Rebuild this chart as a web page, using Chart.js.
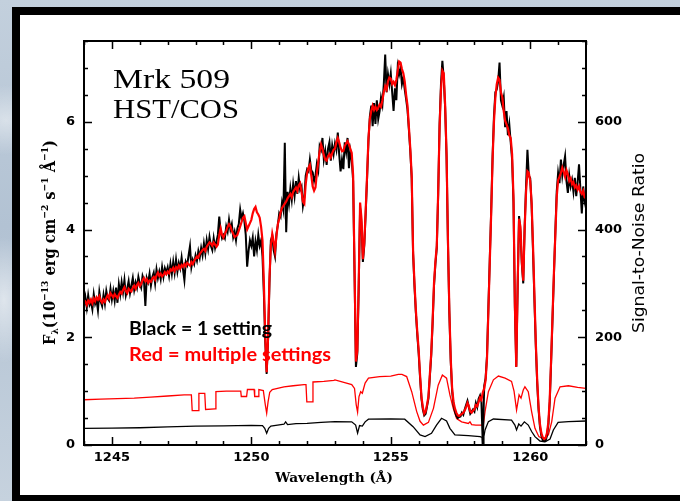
<!DOCTYPE html>
<html>
<head>
<meta charset="utf-8">
<script src="https://cdn.jsdelivr.net/npm/chart.js@4.4.1/dist/chart.umd.min.js"></script>
<style>
html,body{margin:0;padding:0;width:680px;height:501px;overflow:hidden;}
body{background:
  radial-gradient(ellipse 40px 90px at 4px 300px, rgba(255,255,255,0.55), rgba(255,255,255,0) 70%),
  radial-gradient(ellipse 60px 50px at 6px 120px, rgba(255,255,255,0.45), rgba(255,255,255,0) 70%),
  linear-gradient(180deg,#c3d0dd 0%,#b2c2d3 45%,#c6d2de 100%);}
#panel{position:absolute;left:12px;top:7px;width:680px;height:480px;background:#fff;
  border-left:8px solid #000;border-top:8px solid #000;border-bottom:8px solid #000;}
#c{position:absolute;left:0;top:0;}
</style>
</head>
<body>
<div id="panel"></div>
<canvas id="c" width="680" height="501"></canvas>
<script>
// ---- spectral sampling grid (dispersion solution of the plotted spectra) ----
const waveStart = 1244.0;
const waveStep = 0.05;

// ---- flux, multiple settings (red), 1e-13 erg cm-2 s-1 A-1 ----
const fluxMulti = [
2.62,2.66,2.60,2.68,2.64,2.70,2.63,2.72,2.67,2.74,2.70,2.76,2.68,2.64,2.70,2.66,2.73,2.78,2.72,2.82,
2.78,2.74,2.80,2.76,2.73,2.79,2.84,2.81,2.88,2.93,2.86,2.82,2.90,2.87,2.85,2.92,2.96,2.90,2.97,3.01,
2.95,2.99,3.06,3.10,3.04,3.08,3.01,3.05,3.03,3.09,3.12,3.07,3.15,3.20,3.14,3.18,3.13,3.16,3.21,3.17,
3.22,3.19,3.26,3.24,3.29,3.23,3.30,3.27,3.33,3.28,3.34,3.31,3.36,3.32,3.38,3.35,3.33,3.40,3.36,3.42,
3.46,3.50,3.48,3.55,3.58,3.62,3.64,3.60,3.68,3.72,3.76,3.74,3.70,3.76,3.72,3.68,3.72,3.90,4.02,3.90,
3.85,3.92,3.98,4.05,4.10,4.06,3.98,3.92,3.86,3.88,3.90,3.98,4.06,4.14,4.22,4.25,4.12,4.00,4.06,4.12,
4.18,4.30,4.38,4.42,4.32,4.28,4.22,4.05,3.80,3.00,2.00,1.35,2.00,3.10,3.70,3.92,3.78,3.60,3.88,4.10,
4.20,4.32,4.40,4.44,4.48,4.52,4.58,4.62,4.66,4.60,4.70,4.74,4.78,4.72,4.82,4.86,4.70,4.52,4.48,4.85,
5.05,5.15,5.20,5.00,4.80,4.72,4.78,5.05,5.25,5.45,5.58,5.50,5.38,5.30,5.28,5.36,5.40,5.34,5.42,5.48,
5.50,5.62,5.70,5.62,5.52,5.45,5.46,5.55,5.60,5.64,5.58,5.50,5.42,5.00,3.30,1.55,1.75,3.00,4.50,4.20,
3.45,3.75,4.35,5.00,5.70,6.05,6.20,6.30,6.22,6.28,6.22,6.26,6.32,6.28,6.40,6.55,6.66,6.60,6.75,6.82,
6.80,6.70,6.74,6.68,6.78,6.95,7.12,7.10,6.98,6.90,6.75,6.50,6.30,5.90,5.50,5.00,3.60,3.00,2.50,2.10,
1.76,1.30,0.90,0.70,0.58,0.62,0.75,0.90,1.30,1.70,2.30,3.00,3.40,3.70,4.70,5.90,6.60,6.95,6.90,6.30,
5.40,3.80,2.50,1.60,1.05,0.80,0.68,0.60,0.55,0.54,0.56,0.58,0.60,0.64,0.70,0.78,0.72,0.62,0.60,0.64,
0.66,0.74,0.72,0.80,0.88,0.84,0.98,1.05,1.20,1.60,2.50,3.40,4.30,5.30,6.00,6.45,6.70,6.82,6.78,6.55,
6.45,6.20,6.02,5.95,5.88,5.75,5.70,5.40,4.60,2.60,1.45,3.00,4.20,4.05,3.40,3.05,4.00,4.70,5.08,5.05,
4.90,4.50,3.70,2.80,1.90,1.20,0.70,0.38,0.22,0.14,0.11,0.13,0.22,0.42,0.85,1.60,2.40,3.20,3.90,4.60,
4.92,4.98,5.05,5.15,5.08,4.98,5.10,5.02,4.90,4.95,4.84,4.88,4.78,4.82,4.74,4.80,4.70,4.66,4.72,4.60,
4.58];

// ---- flux, one setting (black) ----
const fluxSingle = [
2.58,2.74,2.55,2.78,2.60,2.66,2.52,2.80,2.62,2.70,2.50,2.84,2.66,2.58,2.79,2.62,2.86,2.72,2.68,2.90,
2.70,2.86,2.68,2.92,2.64,2.98,2.80,3.02,2.84,3.06,2.78,2.90,3.04,2.82,2.96,3.10,2.88,3.02,2.92,3.12,
3.00,2.92,3.14,3.06,2.58,3.10,3.02,3.18,2.96,3.12,3.20,3.00,3.26,3.10,3.22,3.08,3.30,3.12,3.28,3.20,
3.30,3.14,3.36,3.18,3.40,3.20,3.44,3.22,3.38,3.28,3.48,3.26,3.06,3.40,3.34,3.52,3.69,3.30,3.44,3.36,
3.52,3.42,3.60,3.48,3.66,3.52,3.74,3.56,3.80,3.64,3.86,3.70,3.62,3.84,3.66,3.78,3.90,4.24,3.96,3.84,
3.90,3.84,4.06,3.96,4.18,4.00,4.10,3.86,3.96,3.80,4.02,4.10,4.37,4.20,4.30,4.16,3.90,3.31,3.60,3.80,
3.70,3.85,3.50,3.78,3.62,3.90,3.70,3.80,3.50,2.80,1.90,1.32,1.95,3.00,3.80,3.88,3.62,3.50,3.92,4.08,
4.30,4.24,4.50,4.36,5.61,3.95,4.70,4.48,4.76,4.55,4.84,4.62,4.90,4.66,4.96,4.74,4.80,4.44,4.60,5.00,
5.12,5.08,5.30,5.10,5.06,4.90,5.00,5.22,5.10,5.55,5.48,5.70,5.30,5.46,5.20,5.50,5.62,5.28,5.56,5.40,
5.60,5.48,5.80,5.40,5.08,5.30,5.12,5.62,5.44,5.70,5.14,5.46,5.30,4.90,3.20,1.45,1.70,2.90,4.40,4.10,
3.40,3.70,4.30,4.95,5.65,6.10,6.30,5.92,6.35,5.96,6.40,6.05,6.20,6.45,6.32,6.70,7.25,6.55,6.88,6.70,
6.90,6.55,6.20,6.62,6.40,7.02,6.88,7.00,6.70,6.82,6.60,6.42,6.22,5.85,5.45,4.95,3.55,2.95,2.45,2.05,
1.70,1.25,0.86,0.66,0.55,0.58,0.72,0.86,1.26,1.66,2.26,2.95,3.36,3.66,4.66,5.95,6.70,7.13,6.80,6.25,
5.35,3.75,2.45,1.55,1.00,0.75,0.62,0.54,0.50,0.52,0.53,0.60,0.56,0.66,0.74,0.82,0.70,0.58,0.62,0.66,
0.62,0.78,0.70,0.86,0.92,0.80,0.00,1.10,1.24,1.65,2.55,3.45,4.35,5.35,6.10,6.55,6.60,6.75,7.10,6.40,
6.30,6.45,5.90,6.20,5.75,5.95,5.62,5.30,4.50,2.55,1.45,2.95,4.25,3.95,3.35,3.00,4.05,4.80,5.48,5.00,
4.95,4.45,3.60,2.70,1.85,1.15,0.65,0.33,0.17,0.09,0.07,0.08,0.17,0.37,0.80,1.55,2.35,3.15,3.95,4.70,
5.05,4.86,5.30,5.00,5.20,5.36,4.90,4.68,5.00,4.80,4.92,4.70,4.96,4.62,4.88,5.21,4.74,4.30,4.80,4.52,
4.40];

// ---- signal-to-noise, multiple settings (red, right axis) ----
const snMultiWave = [1244.00,1244.60,1245.20,1245.80,1246.39,1247.00,1247.59,1247.85,1247.88,1248.09,
1248.12,1248.33,1248.36,1248.70,1248.73,1249.10,1249.62,1249.64,1249.83,1249.86,1250.10,1250.12,1250.24,
1250.27,1250.43,1250.50,1250.55,1250.60,1250.66,1250.75,1251.17,1251.50,1251.89,1251.96,1251.99,1252.18,
1252.21,1252.60,1252.96,1253.00,1253.60,1253.70,1253.76,1253.81,1253.86,1253.92,1253.98,1254.08,1254.20,
1254.60,1255.00,1255.27,1255.40,1255.57,1255.75,1255.93,1256.05,1256.17,1256.35,1256.53,1256.70,1256.85,
1257.00,1257.12,1257.24,1257.36,1257.54,1257.78,1257.84,1257.90,1258.05,1258.26,1258.32,1258.38,1258.50,
1258.68,1258.86,1259.10,1259.33,1259.42,1259.51,1259.60,1259.67,1259.75,1259.81,1259.93,1260.05,1260.17,
1260.31,1260.47,1260.65,1260.77,1260.89,1261.07,1261.37,1261.70,1262.00];
const snMulti = [84,85,86,87,89,91,93,93,64,64,
96,96,66,67,99,100,100,90,90,103,103,90,90,
103,101,75,59,80,98,103,108,110,112,112,80,80,
117,118,120,121,112,105,75,61,90,99,96,115,124,
127,128,131,131,127,99,62,44,37,42,68,111,130,
124,93,68,49,43,40,43,38,37,37,38,62,99,
121,128,124,118,100,65,93,87,102,108,99,62,31,
15.5,11,18.6,43,87,108,110,107,105];

// ---- signal-to-noise, one setting (black, right axis) ----
const snSingleWave = [1244.00,1245.00,1246.00,1247.00,1248.00,1249.00,1250.00,1250.40,1250.48,1250.55,
1250.62,1250.70,1251.00,1251.17,1251.23,1251.30,1251.60,1252.00,1252.50,1253.00,1253.60,1253.74,1253.81,
1253.88,1253.98,1254.08,1254.20,1255.00,1255.50,1255.80,1256.05,1256.23,1256.46,1256.64,1256.82,1257.00,
1257.12,1257.30,1257.78,1258.20,1258.28,1258.29,1258.33,1258.34,1258.38,1258.50,1258.68,1259.33,1259.45,
1259.51,1259.59,1259.67,1259.79,1259.93,1260.05,1260.17,1260.35,1260.53,1260.71,1260.83,1261.00,1261.37,1262.00];
const snSingle = [31,31.5,32,33.5,35,35.5,36.5,36,31,22,
31,35,37.5,38.5,43,38,39.5,40,42,43.4,43,37,22,
36,35,43,48,48.5,48,34,18.6,15.5,21.7,37,49.6,44.6,
31,18.6,17.4,15.5,14,0,0,16,28,43.4,48.3,46,37,
28,39,35,43,37,25,15.5,7.4,6,11,28,42,43.4,44.6];

// ---- axes ----
const xRange = [1244, 1262];
const yLeftRange = [0, 7.5];
const yRightRange = [0, 750];
const xTickValues = [1245, 1250, 1255, 1260];
const yLeftTicks = [0, 2, 4, 6];
const yRightTicks = [0, 200, 400, 600];
const xMinorStep = 1, yLeftMinorStep = 0.5, yRightMinorStep = 50;

// ---- texts ----
const objectName = 'Mrk 509';
const instrument = 'HST/COS';
const noteBlack = 'Black = 1 setting';
const noteRed = 'Red = multiple settings';
const xTitle = 'Wavelength (Å)';
const yRightTitle = 'Signal-to-Noise Ratio';

const RED = '#ff0000';
const BLACK = '#000000';

const waveGrid = fluxMulti.map((_, i) => +(waveStart + i * waveStep).toFixed(2));
const pts = (xs, ys) => xs.map((x, i) => ({x: x, y: ys[i]}));

function fitText(ctx, str, x, y, font, color, width, opts) {
  opts = opts || {};
  ctx.save();
  ctx.font = font; ctx.fillStyle = color;
  ctx.textBaseline = 'alphabetic'; ctx.textAlign = 'left';
  const w = ctx.measureText(str).width;
  const sx = width ? width / w : 1;
  ctx.translate(x, y);
  if (opts.rotate) ctx.rotate(opts.rotate);
  ctx.scale(sx, opts.sy || 1);
  ctx.fillText(str, opts.center ? -w / 2 : 0, 0);
  ctx.restore();
}

function drawRich(ctx, parts, cx, cy, width, rot, color) {
  ctx.save();
  ctx.fillStyle = color; ctx.textBaseline = 'alphabetic'; ctx.textAlign = 'left';
  let total = 0;
  parts.forEach(p => { ctx.font = p.font; p.w = ctx.measureText(p.t).width; total += p.w; });
  ctx.translate(cx, cy); ctx.rotate(rot); ctx.scale(width / total, 1);
  let x = -total / 2;
  parts.forEach(p => { ctx.font = p.font; ctx.fillText(p.t, x, p.dy); x += p.w; });
  ctx.restore();
}

const framePlugin = {
  id: 'framePlugin',
  afterDatasetsDraw(chart) {
    const ctx = chart.ctx, a = chart.chartArea;
    const xs = chart.scales.x, yl = chart.scales.y, yr = chart.scales.y2;
    ctx.save();
    ctx.strokeStyle = BLACK;
    ctx.lineWidth = 1.5;
    ctx.beginPath();
    for (let v = xRange[0]; v <= xRange[1] + 1e-6; v += xMinorStep) {
      const p = Math.round(xs.getPixelForValue(v)) + 0.5;
      const len = xTickValues.includes(Math.round(v)) ? 8 : 4;
      ctx.moveTo(p, a.bottom); ctx.lineTo(p, a.bottom - len);
      ctx.moveTo(p, a.top); ctx.lineTo(p, a.top + len);
    }
    for (let v = yLeftRange[0]; v <= yLeftRange[1] + 1e-6; v += yLeftMinorStep) {
      const p = Math.round(yl.getPixelForValue(v)) + 0.5;
      const len = yLeftTicks.includes(v) ? 8 : 4;
      ctx.moveTo(a.left, p); ctx.lineTo(a.left + len, p);
    }
    for (let v = yRightRange[0]; v <= yRightRange[1] + 1e-6; v += yRightMinorStep) {
      const p = Math.round(yr.getPixelForValue(v)) + 0.5;
      const len = yRightTicks.includes(v) ? 8 : 4;
      ctx.moveTo(a.right, p); ctx.lineTo(a.right - len, p);
    }
    ctx.stroke();
    ctx.lineWidth = 2;
    ctx.strokeRect(a.left, a.top, a.right - a.left, a.bottom - a.top);
    ctx.restore();
  },
  afterDraw(chart) {
    const ctx = chart.ctx, a = chart.chartArea;
    const cx = (a.left + a.right) / 2;
    fitText(ctx, objectName, 113, 87.5, '28px "Liberation Serif"', BLACK, 117);
    fitText(ctx, instrument, 113, 117.5, '28px "Liberation Serif"', BLACK, 126);
    fitText(ctx, noteBlack, 129, 335, 'bold 19px Lato', BLACK, 143);
    fitText(ctx, noteRed, 129, 360.5, 'bold 19px Lato', RED, 202);
    fitText(ctx, xTitle, cx - 1, 481.5, 'bold 13px "DejaVu Serif"', BLACK, 118, {center: true});
    const main = 'bold 16px "DejaVu Serif"', sm = 'bold 10px "DejaVu Serif"';
    drawRich(ctx, [
      {t: 'F', font: main, dy: 0}, {t: 'λ', font: sm, dy: 3},
      {t: '(10', font: main, dy: 0}, {t: '−13', font: sm, dy: -7},
      {t: ' erg cm', font: main, dy: 0}, {t: '−2', font: sm, dy: -7},
      {t: ' s', font: main, dy: 0}, {t: '−1', font: sm, dy: -7},
      {t: ' Å', font: main, dy: 0}, {t: '−1', font: sm, dy: -7},
      {t: ')', font: main, dy: 0}
    ], 55, 242.5, 205, -Math.PI / 2, BLACK);
    fitText(ctx, yRightTitle, 644, 243, '15px "DejaVu Sans"', BLACK, 180, {center: true, rotate: -Math.PI / 2});
  }
};

const tickFont = {family: 'DejaVu Sans', size: 13, weight: 'bold'};

new Chart(document.getElementById('c'), {
  type: 'line',
  data: {
    datasets: [
      {label: 'Flux, multiple settings', data: pts(waveGrid, fluxMulti), yAxisID: 'y',
       borderColor: RED, borderWidth: 2.2, pointRadius: 0, tension: 0},
      {label: 'Flux, 1 setting', data: pts(waveGrid, fluxSingle), yAxisID: 'y',
       borderColor: BLACK, borderWidth: 2, pointRadius: 0, tension: 0},
      {label: 'S/N, multiple settings', data: pts(snMultiWave, snMulti), yAxisID: 'y2',
       borderColor: RED, borderWidth: 1.3, pointRadius: 0, tension: 0},
      {label: 'S/N, 1 setting', data: pts(snSingleWave, snSingle), yAxisID: 'y2',
       borderColor: BLACK, borderWidth: 1.3, pointRadius: 0, tension: 0}
    ]
  },
  options: {
    responsive: false,
    animation: false,
    devicePixelRatio: 1,
    events: [],
    layout: {padding: {top: 41, left: 0, right: 0, bottom: 0}},
    plugins: {legend: {display: false}, tooltip: {enabled: false}, title: {display: false}},
    scales: {
      x: {
        type: 'linear', position: 'bottom', min: xRange[0], max: xRange[1],
        grid: {display: false, drawTicks: false}, border: {display: false},
        afterBuildTicks: s => { s.ticks = xTickValues.map(v => ({value: v})); },
        afterFit: s => { s.height = 56; },
        ticks: {color: BLACK, font: tickFont, padding: 5, maxRotation: 0, autoSkip: false,
                callback: v => String(v)}
      },
      y: {
        type: 'linear', position: 'left', min: yLeftRange[0], max: yLeftRange[1],
        grid: {display: false, drawTicks: false}, border: {display: false},
        afterBuildTicks: s => { s.ticks = yLeftTicks.map(v => ({value: v})); },
        afterFit: s => { s.width = 84; },
        ticks: {color: BLACK, font: tickFont, padding: 9, callback: v => String(v)}
      },
      y2: {
        type: 'linear', position: 'right', min: yRightRange[0], max: yRightRange[1],
        grid: {display: false, drawTicks: false}, border: {display: false},
        afterBuildTicks: s => { s.ticks = yRightTicks.map(v => ({value: v})); },
        afterFit: s => { s.width = 94; },
        ticks: {color: BLACK, font: tickFont, padding: 9, callback: v => String(v)}
      }
    }
  },
  plugins: [framePlugin]
});
</script>
</body>
</html>
